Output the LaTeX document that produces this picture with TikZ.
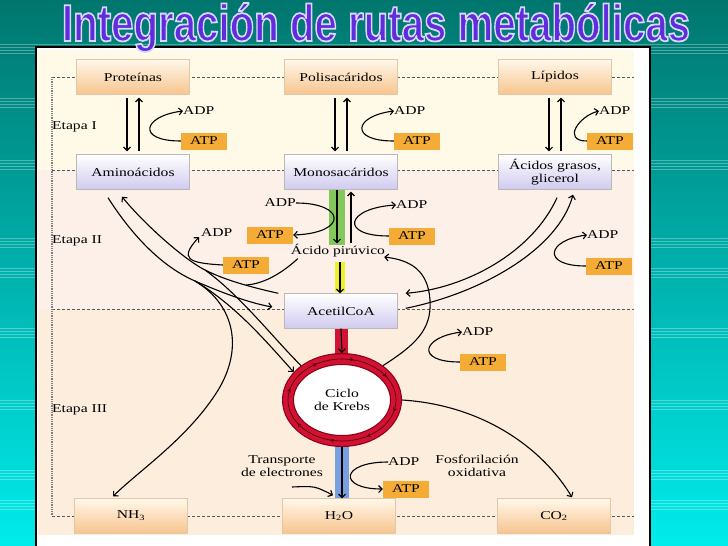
\documentclass[tikz,border=0pt]{standalone}
\usepackage{fontspec}
\setmainfont{Liberation Serif}[FakeStretch=1.3]
\newfontfamily\titlefont{Liberation Sans}
\usepackage{graphicx}
\usetikzlibrary{positioning,calc,shapes.geometric,arrows.meta,decorations.markings}

\definecolor{tealtop}{RGB}{0,118,110}
\definecolor{tealbot}{RGB}{0,236,236}
\definecolor{bandI}{RGB}{255,250,232}
\definecolor{bandII}{RGB}{252,240,232}
\definecolor{bandIII}{RGB}{252,237,220}
\definecolor{boxtop}{RGB}{255,248,234}
\definecolor{boxbot}{RGB}{247,196,142}
\definecolor{lavtop}{RGB}{255,255,255}
\definecolor{lavbot}{RGB}{208,202,238}
\definecolor{atpfill}{RGB}{244,172,55}
\definecolor{krebsred}{RGB}{210,18,50}
\definecolor{krebsdark}{RGB}{140,0,25}
\definecolor{glyco}{RGB}{130,200,90}
\definecolor{pyrtoacc}{RGB}{240,240,40}
\definecolor{etcblue}{RGB}{120,160,225}
\definecolor{titlecol}{RGB}{95,45,220}

% outlined title letters
\newcommand\outlined[1]{\special{pdf:literal direct 2 Tr 0.35 w 0.85 0.85 1 RG}#1\special{pdf:literal direct 0 Tr}}

\tikzset{
  every node/.style={font=\fontsize{12}{13.5}\selectfont},
  polymer/.style={draw=brown!45, top color=boxtop, bottom color=boxbot,
    minimum width=113pt, minimum height=35pt, inner sep=1pt},
  monomer/.style={draw=gray!55, top color=lavtop, bottom color=lavbot,
    minimum width=113pt, minimum height=35pt, align=center, inner sep=1pt},
  atpbox/.style={fill=atpfill, minimum width=46pt, minimum height=17pt, inner sep=1pt},
  sidetext/.style={anchor=west, inner sep=0pt},
  flow/.style={line width=1.1pt, -{Straight Barb[length=3.5pt,width=7pt]}},
  plainflow/.style={line width=1.1pt},
  stagerule/.style={line width=0.5pt, black!65, dash pattern=on 3pt off 2pt},
  krebsring/.style={ellipse, draw=krebsdark, line width=1.2pt, double=krebsred,
    double distance=9.6pt, fill=white, minimum width=108pt, minimum height=82pt,
    inner sep=0pt, outer sep=6pt, align=center},
  krebsloop/.style={line width=0.7pt, krebsdark!60!black,
    decoration={markings, mark=between positions 0.04 and 1 step 0.125
      with {\arrow{Stealth[length=4pt,width=4pt]}}}, postaction={decorate}},
  stripe/.style={white, opacity=0.3, line width=0.6pt},
  titletext/.style={anchor=base, inner sep=0pt, font=\titlefont\bfseries}
}

\begin{document}
\begin{tikzpicture}[x=1pt, y=-1pt]
  \useasboundingbox (0,0) rectangle (728,546);

  % slide background
  \shade[top color=tealtop, bottom color=tealbot] (0,0) rectangle (728,546);
  \foreach \s in {44, 98, 160, 238, 268, 328, 400, 470, 500}
    \foreach \k in {0,...,3}
      \draw[stripe] (0,\s+3*\k) -- (728,\s+3*\k);

  % panel and stages
  \fill[white] (36,47) rectangle (650,546);
  \draw[line width=1.5pt] (36,546) -- (36,47) -- (650,47) -- (650,546);
  \fill[bandI] (38,50) rectangle (634,170);
  \fill[bandII] (38,170) rectangle (634,309);
  \fill[bandIII] (38,309) rectangle (634,535);
  \foreach \y in {77, 170, 309, 516}
    \draw[stagerule] (52,\y) -- (634,\y);
  \draw[gray, line width=1.6pt, dash pattern=on 1pt off 0.8pt] (52,77) -- (52,516);
  \node[sidetext] (etapaI) at (52,127) {Etapa I};
  \node[sidetext] (etapaII) at (52,241) {Etapa II};
  \node[sidetext] (etapaIII) at (52,410) {Etapa III};

  % title
  \node[titletext, text=titlecol] (title) at (376,41)
    {\resizebox{628pt}{38pt}{\outlined{Integración de rutas metabólicas}}};

  % highlighted steps
  \fill[glyco] (329,190) rectangle (345,245);
  \fill[pyrtoacc] (335,262) rectangle (345,292);
  \fill[krebsred] (335,329) rectangle (348,356);
  \fill[etcblue] (335,441) rectangle (349,498);

  % compounds
  \node[polymer] (prot) at (133,77) {Proteínas};
  \node[polymer] (polis) at (341,77) {Polisacáridos};
  \node[polymer] (lip) at (555,77) {Lípidos};
  \node[monomer] (amino) at (133,172) {Aminoácidos};
  \node[monomer] (mono) at (341,172) {Monosacáridos};
  \node[monomer] (acgras) at (555,172) {Ácidos grasos,\\glicerol};
  \node[inner sep=1pt] (pir) at (338,251) {Ácido pirúvico};
  \node[monomer] (acetil) at (341,311) {AcetilCoA};
  \node[krebsring] (krebs) at (342,400) {Ciclo\\de Krebs};
  \node[polymer] (nh) at (131,516) {NH\textsubscript{3}};
  \node[polymer] (agua) at (339,516) {H\textsubscript{2}O};
  \node[polymer] (co) at (554,516) {CO\textsubscript{2}};
  \draw[krebsloop] (krebs.center) ellipse [x radius=54, y radius=41];

  % stage I
  \foreach \src/\dst in {prot/amino, polis/mono, lip/acgras} {
    \draw[flow] ($(\src.south)+(-6,3)$) -- ($(\dst.north)+(-6,-3)$);
    \draw[flow] ($(\dst.north)+(6,-3)$) -- ($(\src.south)+(6,3)$);
  }
  \foreach \i/\ax/\dx/\bend in {1/204/183/45, 2/417/394/45, 3/610/599/25} {
    \node[atpbox] (atpI\i) at (\ax,141) {ATP};
    \node[sidetext] (adpI\i) at (\dx,111) {ADP};
    \draw[flow] (atpI\i.west) .. controls +(-\bend,0) and +(-\bend+5,5) .. (adpI\i.west);
  }

  % stage II, glucolisis
  \coordinate (g1) at ($(mono.south)+(-4,0)$);
  \coordinate (g2) at ($(mono.south)+(10,0)$);
  \draw[flow] (g1) -- (g1 |- pir.north);
  \draw[flow] (g2 |- pir.north) -- ($(g2)+(0,2)$);
  \node[sidetext, anchor=east] (adpII1) at (296,203) {ADP};
  \node[atpbox] (atpII1) at (270,235) {ATP};
  \draw[flow] (adpII1.east) .. controls +(50,0) and +(55,-2) .. (atpII1.east);
  \node[sidetext] (adpII2) at (396,205) {ADP};
  \node[atpbox] (atpII2) at (412,236) {ATP};
  \draw[flow] (atpII2.west) .. controls +(-50,0) and +(-50,3) .. (adpII2.west);
  \coordinate (y1) at (340,262);
  \draw[flow] (y1) -- (y1 |- acetil.north);

  % stage II, aminoacidos
  \coordinate (aa1) at ($(amino.south)+(-25,8)$);
  \coordinate (aa2) at ($(amino.south)+(-11,7)$);
  \coordinate (aj1) at (195,281);
  \coordinate (aj2) at (205,270);
  \coordinate (pj) at (246,285);
  \draw[plainflow] (aa1) .. controls (135,240) and (165,268) .. (aj1);
  \draw[flow] (aj1) .. controls (225,294) and (250,303) .. ($(acetil.west)+(-12,-4)$);
  \draw[flow] (aj1) .. controls (235,305) and (265,340) .. (krebs.150);
  \draw[flow] ($(acetil.north west)+(-6,0)$) .. controls (250,287) and (225,280) .. (aj2)
    .. controls (185,260) and (145,225) .. (aa2);
  \draw[plainflow] (krebs.140) .. controls (275,340) and (240,295) .. (aj2);
  \draw[plainflow] ($(pir.south west)+(8,0)$) .. controls (280,275) and (262,284) .. (pj);
  \draw[flow] (aj1) .. controls (235,305) and (245,350) .. (215,395)
    .. controls (185,440) and (140,470) .. ($(nh.north)+(-18,-2)$);
  \node[atpbox] (atpII0) at (246,265) {ATP};
  \node[sidetext] (adpII0) at (201,233) {ADP};
  \draw[flow] (atpII0.west) .. controls +(-35,-2) and +(-20,22) .. ($(adpII0.west)+(-2,4)$);

  % stage II, lipidos
  \draw[flow] ($(acgras.south)+(2,8)$) .. controls +(-25,55) and +(60,-5) .. ($(acetil.north east)+(8,0)$);
  \draw[flow] ($(acetil.north east)+(8,15)$) .. controls +(75,-15) and +(-15,55) .. ($(acgras.south)+(18,5)$);
  \node[atpbox] (atpII3) at (609,266) {ATP};
  \node[sidetext] (adpII3) at (587,235) {ADP};
  \draw[flow] (atpII3.west) .. controls +(-45,0) and +(-40,5) .. (adpII3.west);

  % stage III
  \draw[flow] (acetil.south) -- (krebs.north);
  \draw[flow] (krebs.south) -- (krebs.south |- agua.north);
  \draw[flow] (krebs.40) .. controls (415,345) and (432,330) .. (430,300)
    .. controls (428,270) and (410,260) .. ($(pir.east)+(-2,6)$);
  \node[atpbox] (atpIII2) at (483,362) {ATP};
  \node[sidetext] (adpIII2) at (462,332) {ADP};
  \draw[flow] (atpIII2.west) .. controls +(-45,0) and +(-40,5) .. (adpIII2.west);
  \draw[flow] (krebs.east) .. controls +(80,5) and +(-30,-50) .. ($(co.north)+(18,-1)$);
  \node[align=center] (transp) at (282,466) {Transporte\\de electrones};
  \node[align=center] (fosfo) at (477,466) {Fosforilación\\oxidativa};
  \coordinate (etcin) at (292,487);
  \draw[flow] (etcin) .. controls (315,486) .. ($(krebs.south |- agua.north)+(-9,-3)$);
  \node[sidetext] (adpIII1) at (388,462) {ADP};
  \node[atpbox] (atpIII1) at (406,489) {ATP};
  \draw[flow] (adpIII1.west) .. controls +(-48,0) and +(-45,0) .. (atpIII1.west);
\end{tikzpicture}
\end{document}
